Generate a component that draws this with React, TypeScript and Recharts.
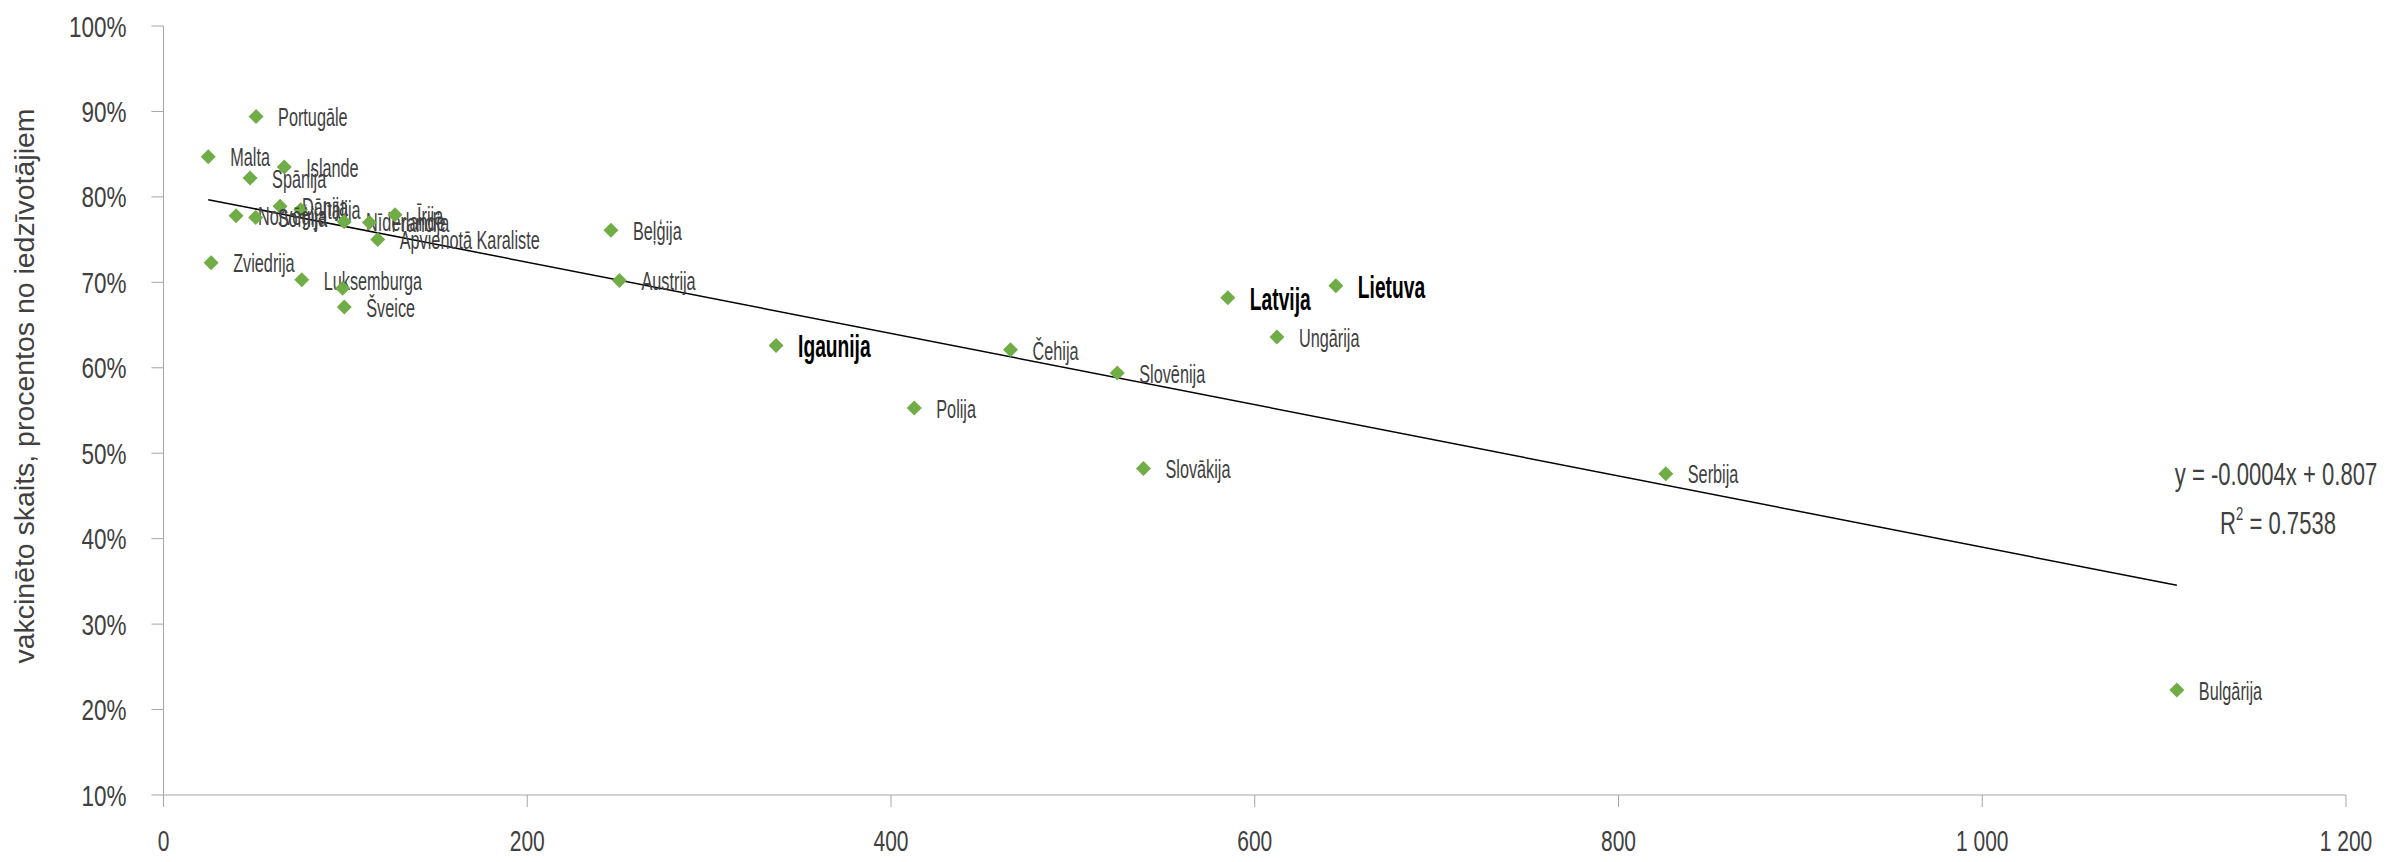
import React from 'react'
import { ScatterChart, Scatter, XAxis, YAxis, ReferenceLine, Customized } from 'recharts'

// ─── Data ────────────────────────────────────────────────────────────────────

const countries = [
  'Portugāle', 'Malta', 'Islande', 'Spānija', 'Dānija', 'Itālija', 'Norvēģija', 'Somija',
  'Nīderlande', 'Francija', 'Īrija', 'Apvienotā Karaliste', 'Zviedrija', 'Luksemburga', '',
  'Šveice', 'Beļģija', 'Austrija', 'Igaunija', 'Polija', 'Čehija', 'Slovēnija', 'Slovākija',
  'Latvija', 'Lietuva', 'Ungārija', 'Serbija', 'Bulgārija',
]
const xValues = [
  50.9, 24.6, 66.4, 47.6, 64.1, 75.4, 39.9, 50.7,
  99.3, 113.2, 127.3, 117.8, 26.2, 76.0, 98.5,
  99.4, 246.0, 250.7, 336.8, 412.8, 465.7, 524.4, 538.8,
  585.2, 644.6, 612.2, 826.0, 1107.0,
]
const vaccinated = [
  89.4, 84.7, 83.5, 82.2, 78.9, 78.5, 77.8, 77.6,
  77.1, 77.0, 77.9, 75.0, 72.3, 70.3, 69.3,
  67.1, 76.1, 70.2, 62.6, 55.3, 62.1, 59.4, 48.2,
  68.2, 69.6, 63.6, 47.6, 22.3,
]
const highlighted = ['Igaunija', 'Latvija', 'Lietuva']

const xTicks = [0, 200, 400, 600, 800, 1000, 1200]
const yTicks = [10, 20, 30, 40, 50, 60, 70, 80, 90, 100]

// linear trend (in percent units), as drawn in the original
const trendSlope = -0.0417
const trendIntercept = 80.7
const equationText = 'y = -0.0004x + 0.807'
const rSquaredText = '0.7538'

const yTitle = 'vakcinēto skaits, procentos no iedzīvotājiem'

// ─── Styles ──────────────────────────────────────────────────────────────────

const FONT = '"Liberation Sans Narrow", "Arial Narrow", sans-serif'
const GREEN = '#70AD47'
const AXIS = '#A6A6A6'
const TEXT = '#404040'

const points = countries.map((name, i) => ({ name, x: xValues[i], y: vaccinated[i] }))
const minX = Math.min(...xValues)
const maxX = Math.max(...xValues)
const trendSegment = [
  { x: minX, y: trendIntercept + trendSlope * minX },
  { x: maxX, y: trendIntercept + trendSlope * maxX },
]

function formatThousands(v: number): string {
  return String(v).replace(/\B(?=(\d{3})+(?!\d))/g, ' ')
}

// ─── Pieces ──────────────────────────────────────────────────────────────────

function Diamond(props: any) {
  const { cx, cy, payload } = props
  const r = 7.5
  const bold = highlighted.includes(payload.name)
  return (
    <g>
      <path d={`M${cx},${cy - r}L${cx + r},${cy}L${cx},${cy + r}L${cx - r},${cy}Z`} fill={GREEN} />
      {payload.name && (
        <text
          transform={`translate(${cx + 22},${cy + 1}) scale(${bold ? 0.62 : 0.65},1)`}
          dy="0.35em"
          fontFamily={FONT}
          fontSize={bold ? 31 : 25}
          fontWeight={bold ? 'bold' : 'normal'}
          fill={bold ? '#000' : TEXT}
        >
          {payload.name}
        </text>
      )}
    </g>
  )
}

function XTick({ x, y, payload }: any) {
  return (
    <text
      transform={`translate(${x},${y + 42}) scale(0.7,1)`}
      textAnchor="middle"
      fontFamily={FONT}
      fontSize={30}
      fill={TEXT}
    >
      {formatThousands(payload.value)}
    </text>
  )
}

function YTick({ x, y, payload }: any) {
  return (
    <text
      transform={`translate(${x - 23},${y}) scale(0.75,1)`}
      dy="0.35em"
      textAnchor="end"
      fontFamily={FONT}
      fontSize={30}
      fill={TEXT}
    >
      {payload.value}%
    </text>
  )
}

function Annotations() {
  return (
    <g>
      <text
        transform="translate(17,378) rotate(-90)"
        textAnchor="middle"
        dy="0.35em"
        fontFamily={FONT}
        fontSize={27}
        fill={TEXT}
        textLength={555}
        lengthAdjust="spacingAndGlyphs"
      >
        {yTitle}
      </text>
      <text transform="translate(2268,477) scale(0.69,1)" textAnchor="middle" fontFamily={FONT} fontSize={32} fill={TEXT}>
        {equationText}
      </text>
      <text transform="translate(2270,526) scale(0.69,1)" textAnchor="middle" fontFamily={FONT} fontSize={32} fill={TEXT}>
        R<tspan fontSize={19} dy={-14}>2</tspan>
        <tspan dy={14}>{' = ' + rSquaredText}</tspan>
      </text>
    </g>
  )
}

// ─── Chart ───────────────────────────────────────────────────────────────────

export default function App() {
  return (
    <div style={{ width: 2389, height: 846 }}>
      <style>{'.recharts-surface { overflow: visible; }'}</style>
      <ScatterChart width={2389} height={846} margin={{ top: 18, right: 51, bottom: 0, left: 0 }}>
        <XAxis
          type="number"
          dataKey="x"
          domain={[0, 1200]}
          ticks={xTicks}
          height={59}
          stroke={AXIS}
          tickSize={12}
          tick={<XTick />}
          interval={0}
        />
        <YAxis
          type="number"
          dataKey="y"
          domain={[10, 100]}
          ticks={yTicks}
          width={155.5}
          stroke={AXIS}
          tickSize={12}
          tick={<YTick />}
          interval={0}
        />
        <Scatter data={points} shape={<Diamond />} isAnimationActive={false} />
        <ReferenceLine segment={trendSegment} stroke="#000" strokeWidth={1.5} />
        <Customized component={<Annotations />} />
      </ScatterChart>
    </div>
  )
}
